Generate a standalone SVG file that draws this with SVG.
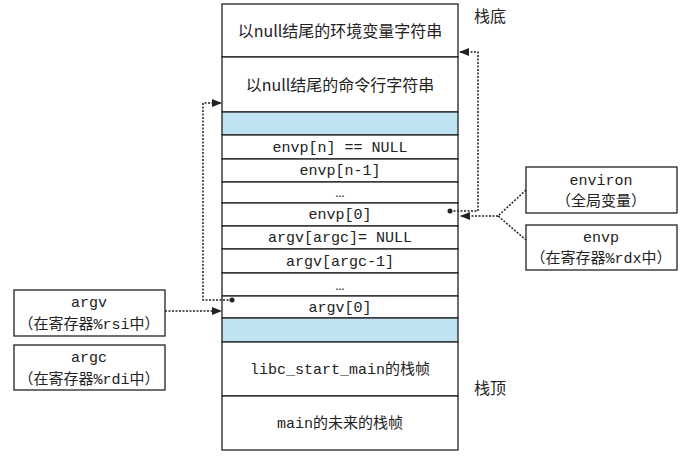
<svg xmlns="http://www.w3.org/2000/svg" width="690" height="465" viewBox="0 0 690 465">
<style>
.c{fill:#fff;stroke:#222;stroke-width:1.3}
.b{fill:#bfe3f0;stroke:#222;stroke-width:1.3}
.t{font-family:"Liberation Mono","Noto Sans CJK SC",monospace;font-size:15px;fill:#222;text-anchor:middle}
.z{font-family:"Noto Sans CJK SC",sans-serif;font-size:16px;fill:#222;text-anchor:middle}
.d{fill:none;stroke:#222;stroke-width:1.5;stroke-dasharray:2,1.5}
</style>
<defs><marker id="a" viewBox="0 0 10 10" refX="9" refY="5" markerWidth="7" markerHeight="7" orient="auto"><path d="M0,1 L10,5 L0,9 z" fill="#222"/></marker></defs>
<g id="stack">
<rect class="c" x="222" y="4" width="236" height="53"/>
<text class="z" x="340" y="37">以null结尾的环境变量字符串</text>
<rect class="c" x="222" y="57" width="236" height="55" stroke-width="2"/>
<text class="z" x="340" y="91">以null结尾的命令行字符串</text>
<rect class="b" x="222" y="112" width="236" height="23"/>
<rect class="c" x="222" y="135" width="236" height="24"/><text class="t" x="340" y="152">envp[n] == NULL</text>
<rect class="c" x="222" y="159" width="236" height="23"/><text class="t" x="340" y="175">envp[n-1]</text>
<rect class="c" x="222" y="182" width="236" height="21"/><text class="t" x="340" y="197">…</text>
<rect class="c" x="222" y="203" width="236" height="23"/><text class="t" x="340" y="219">envp[0]</text>
<rect class="c" x="222" y="226" width="236" height="23"/><text class="t" x="340" y="242">argv[argc]= NULL</text>
<rect class="c" x="222" y="249" width="236" height="24"/><text class="t" x="340" y="266">argv[argc-1]</text>
<rect class="c" x="222" y="273" width="236" height="23"/><text class="t" x="340" y="290">…</text>
<rect class="c" x="222" y="296" width="236" height="22"/><text class="t" x="340" y="312">argv[0]</text>
<rect class="b" x="222" y="318" width="236" height="24"/>
<rect class="c" x="222" y="342" width="236" height="54"/><text class="t" x="340" y="374">libc_start_main的栈帧</text>
<rect class="c" x="222" y="396" width="236" height="54"/><text class="t" x="340" y="428">main的未来的栈帧</text>
</g>
<text class="z" x="490" y="22">栈底</text>
<text class="z" x="490" y="394">栈顶</text>
<g id="environ"><rect class="c" x="526" y="167" width="151" height="46"/><text class="t" x="601" y="185">environ</text><text class="t" x="601" y="206">（全局变量）</text></g>
<g id="envp"><rect class="c" x="526" y="225" width="151" height="45"/><text class="t" x="601" y="242">envp</text><text class="t" x="601" y="263">（在寄存器%rdx中）</text></g>
<g id="argv"><rect class="c" x="14" y="290" width="151" height="46"/><text class="t" x="89" y="307">argv</text><text class="t" x="89" y="329">（在寄存器%rsi中）</text></g>
<g id="argc"><rect class="c" x="14" y="345" width="151" height="45"/><text class="t" x="89" y="362">argc</text><text class="t" x="89" y="384">（在寄存器%rdi中）</text></g>
<g id="connectors">
<circle cx="450" cy="211" r="2.5" fill="#222"/>
<path class="d" d="M450,211 H478 V52 H460" marker-end="url(#a)"/>
<circle cx="232" cy="300" r="2.5" fill="#222"/>
<path class="d" d="M232,300 H203 V103 H221" marker-end="url(#a)"/>
<path class="d" d="M526,190 L498,216 L526,240 M498,216 H461" marker-end="url(#a)"/>
<path class="d" d="M165,311 H221" marker-end="url(#a)"/>
</g>
</svg>
